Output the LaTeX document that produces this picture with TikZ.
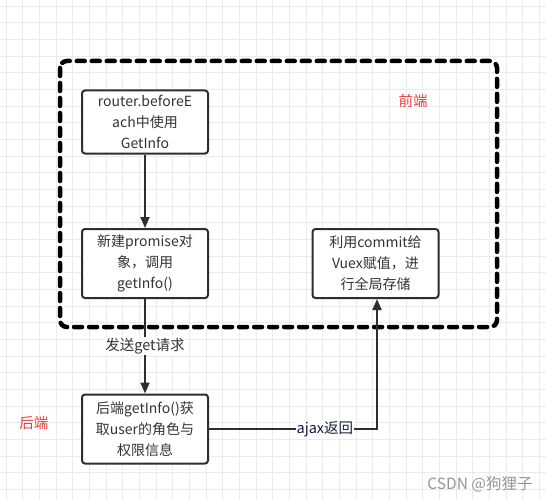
\documentclass[tikz,border=0pt]{standalone}
\usepackage{fontspec}
\setmainfont{Noto Sans CJK SC}
\usetikzlibrary{arrows.meta}
\definecolor{gridc}{HTML}{EBEBEB}
\definecolor{boxline}{HTML}{2B2F33}
\definecolor{txt}{HTML}{333333}
\definecolor{redt}{HTML}{E84040}
\begin{document}
\begin{tikzpicture}[x=1pt,y=-1pt,
  stepbox/.style={draw=boxline,line width=2pt,rounded corners=3pt,fill=white,
    minimum width=126pt,minimum height=63pt,align=center,text=txt,
    font=\fontsize{14}{21}\selectfont,inner sep=0pt},
  conn/.style={draw=boxline,line width=2pt,-{Triangle[length=11pt,width=9pt]}},
  elabel/.style={fill=white,inner sep=1pt,font=\fontsize{14.5}{16}\selectfont},
  side/.style={text=redt,font=\fontsize{14.5}{16}\selectfont}]
\useasboundingbox (0,0) rectangle (546,500);
\fill[white] (0,0) rectangle (546,500);
\foreach \g in {0,...,33} {
  \draw[gridc,line width=0.8pt] (6+16.67*\g,0) -- (6+16.67*\g,500);
}
\foreach \g in {0,...,30} {
  \draw[gridc,line width=0.8pt] (0,6+16.67*\g) -- (546,6+16.67*\g);
}
\draw[black,line width=4.5pt,line cap=round,rounded corners=7pt,dash pattern=on 8pt off 7pt]
  (60,61) rectangle (497,327);
\node[stepbox,minimum height=63pt] (a) at (145,122) {router.beforeE\\ach中使用\\GetInfo};
\node[stepbox,minimum height=69pt] (b) at (145,263.5) {新建promise对\\象，调用\\getInfo()};
\node[stepbox,minimum height=69pt] (c) at (375.5,263.5) {利用commit给\\Vuex赋值，进\\行全局存储};
\node[stepbox,minimum height=69pt] (d) at (145,429) {后端getInfo()获\\取user的角色与\\权限信息};
\draw[conn] (a) -- (b);
\draw[conn] (b) -- node[elabel,text=txt,pos=0.5] {发送get请求} (d);
\coordinate (k) at (377,429);
\draw[conn] (d.east) -- node[elabel,text={rgb,255:red,20;green,30;blue,60},pos=0.69] {ajax返回} (k) -- (c.south -| k);
\node[side] (fe) at (413,101) {前端};
\node[side] (be) at (34,423) {后端};
\node[text={rgb,255:red,150;green,150;blue,150},font=\fontsize{15.5}{18}\selectfont] (wm) at (480,484) {CSDN @狗狸子};
\end{tikzpicture}
\end{document}
